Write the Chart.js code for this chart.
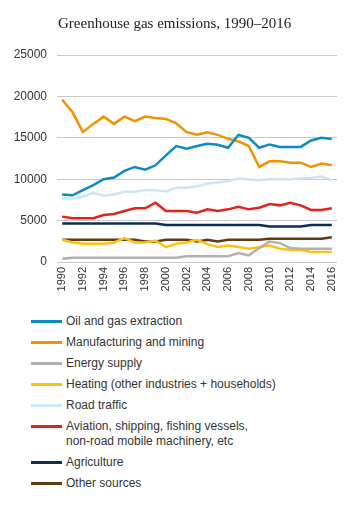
<!DOCTYPE html>
<html>
<head>
<meta charset="utf-8">
<script src="https://cdn.jsdelivr.net/npm/chart.js@4/dist/chart.umd.min.js"></script>
<style>
  body { margin: 0; background: #fff; }
  #wrap { position: relative; width: 353px; height: 300px; }
  #titulo {
    position: absolute; left: 58px; top: 15px;
    font: 15px "Liberation Serif", "Times New Roman", serif; color: #222;
    white-space: nowrap;
  }
  #leyenda { margin-top: 11px; font: 12px "Liberation Sans", Arial, sans-serif; color: #333; }
  .item { display: flex; align-items: flex-start; padding: 3px 0; line-height: 15px; }
  .linea { width: 31px; height: 3px; margin: 6px 4px 0 31px; flex: none; }
</style>
</head>
<body>
<div id="wrap">
  <div id="titulo">Greenhouse gas emissions, 1990–2016</div>
  <canvas id="grafico" width="353" height="300"></canvas>
</div>
<div id="leyenda"></div>

<script>
// === DATOS ===
const years = ["1990", "1991", "1992", "1993", "1994", "1995", "1996", "1997", "1998", "1999",
  "2000", "2001", "2002", "2003", "2004", "2005", "2006", "2007", "2008", "2009",
  "2010", "2011", "2012", "2013", "2014", "2015", "2016"];

const oilGas = [8150, 8050, 8680, 9280, 10000, 10200, 11000, 11480, 11160, 11680,
  12880, 14000, 13680, 14000, 14280, 14160, 13800, 15360, 15000, 13800,
  14200, 13900, 13900, 13900, 14680, 15000, 14850];
const manufacturing = [19600, 18080, 15680, 16680, 17560, 16680, 17560, 17000, 17560, 17400,
  17280, 16760, 15680, 15360, 15680, 15360, 14880, 14560, 14000, 11480,
  12160, 12160, 12000, 12000, 11480, 11880, 11680];
const energySupply = [400, 520, 520, 520, 520, 520, 520, 520, 520, 520,
  520, 520, 680, 680, 680, 680, 680, 1080, 800, 1680,
  2480, 2280, 1680, 1600, 1600, 1600, 1600];
const heating = [2680, 2360, 2200, 2200, 2200, 2360, 2880, 2360, 2360, 2600,
  1800, 2200, 2360, 2680, 2160, 1800, 2000, 1800, 1600, 1800,
  2000, 1600, 1480, 1480, 1200, 1200, 1200];
const roadTraffic = [7680, 7680, 7880, 8360, 8000, 8160, 8480, 8480, 8680, 8680,
  8520, 8960, 8960, 9160, 9480, 9640, 9760, 10080, 9960, 9880,
  10000, 10000, 10000, 10120, 10160, 10320, 9840];
const aviation = [5480, 5280, 5280, 5280, 5680, 5800, 6160, 6480, 6480, 7160,
  6160, 6160, 6160, 5960, 6360, 6160, 6360, 6680, 6360, 6560,
  7000, 6840, 7160, 6840, 6280, 6280, 6480];
const agriculture = [4640, 4640, 4640, 4640, 4640, 4640, 4640, 4640, 4640, 4640,
  4480, 4480, 4480, 4480, 4480, 4480, 4480, 4480, 4480, 4480,
  4280, 4280, 4280, 4280, 4480, 4480, 4480];
const otherSources = [2680, 2680, 2680, 2680, 2680, 2680, 2680, 2680, 2480, 2480,
  2680, 2680, 2680, 2480, 2680, 2480, 2680, 2680, 2680, 2680,
  2800, 2800, 2800, 2800, 2800, 2800, 3000];

const series = [
  { label: "Oil and gas extraction", data: oilGas, color: "#0b8ac6" },
  { label: "Manufacturing and mining", data: manufacturing, color: "#f39200" },
  { label: "Energy supply", data: energySupply, color: "#b4afaa" },
  { label: "Heating (other industries + households)", data: heating, color: "#ffc20e" },
  { label: "Road traffic", data: roadTraffic, color: "#cde5f5" },
  { label: "Aviation, shipping, fishing vessels,\nnon-road mobile machinery, etc", data: aviation, color: "#e3231b" },
  { label: "Agriculture", data: agriculture, color: "#0b2f52" },
  { label: "Other sources", data: otherSources, color: "#5e3b17" }
];

// === GRÁFICO ===
new Chart(document.getElementById("grafico"), {
  type: "line",
  data: {
    labels: years,
    datasets: series.map(s => ({
      label: s.label,
      data: s.data,
      borderColor: s.color,
      backgroundColor: s.color,
      borderWidth: 2.5,
      pointRadius: 0,
      tension: 0,
      fill: false
    }))
  },
  options: {
    responsive: false,
    animation: false,
    layout: { padding: { top: 55, right: 16, left: 0, bottom: 0 } },
    plugins: { legend: { display: false }, tooltip: { enabled: false } },
    scales: {
      x: {
        offset: true,
        grid: { display: false, drawTicks: false },
        border: { display: false },
        ticks: {
          autoSkip: false, minRotation: 90, maxRotation: 90, padding: 5,
          color: "#333", font: { family: "Liberation Sans", size: 11 },
          callback: (v, i) => (i % 2 === 0 ? years[i] : "")
        },
        afterFit: scale => { scale.height = 38; }
      },
      y: {
        min: 0, max: 25000,
        grid: { color: "#c8c8c8", lineWidth: 1, drawTicks: false },
        border: { display: false },
        ticks: {
          stepSize: 5000, padding: 10, color: "#333",
          font: { family: "Liberation Sans", size: 12 },
          callback: v => String(v)
        },
        afterFit: scale => { scale.width = 57; }
      }
    }
  }
});

// === LEYENDA ===
const leyenda = document.getElementById("leyenda");
series.forEach(s => {
  const item = document.createElement("div");
  item.className = "item";
  const linea = document.createElement("span");
  linea.className = "linea";
  linea.style.background = s.color;
  const texto = document.createElement("span");
  texto.innerHTML = s.label.replace("\n", "<br>");
  item.appendChild(linea);
  item.appendChild(texto);
  leyenda.appendChild(item);
});
</script>
</body>
</html>
